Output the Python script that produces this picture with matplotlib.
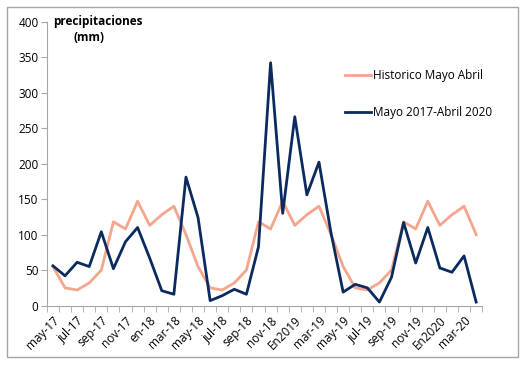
import numpy as np
import matplotlib.pyplot as plt
from matplotlib.patches import Rectangle

# monthly values, may-2017 .. apr-2020
historico_anual = [55, 25, 22, 32, 50, 118, 108, 147, 113, 128, 140, 100]
historico = historico_anual * 3
periodo = [56, 42, 61, 55, 104, 52, 90, 110, 67, 21, 16, 181,
           124, 7, 14, 23, 16, 83, 342, 130, 266, 156, 202, 102,
           19, 30, 25, 5, 40, 117, 60, 110, 53, 47, 70, 5]
etiquetas = ["may-17", "jul-17", "sep-17", "nov-17", "en-18", "mar-18",
             "may-18", "jul-18", "sep-18", "nov-18", "En2019", "mar-19",
             "may-19", "jul-19", "sep-19", "nov-19", "En2020", "mar-20"]

plt.rcParams["font.family"] = ["Open Sans", "DejaVu Sans"]

fig = plt.figure(figsize=(5.27, 3.66), dpi=100)
ax = fig.add_axes([0.089, 0.165, 0.826, 0.776])

x = np.arange(len(periodo))
ax.plot(x, historico, color="#F4A58C", lw=2.0, label="Historico Mayo Abril")
ax.plot(x, periodo, color="#0B2A5E", lw=2.0, label="Mayo 2017-Abril 2020")

ax.set_xlim(-0.5, len(periodo) - 0.5)
ax.set_ylim(0, 400)
ax.set_yticks(range(0, 401, 50))
ax.set_xticks(x[::2])
ax.set_xticklabels(etiquetas, rotation=45, ha="right", rotation_mode="anchor")
ax.set_xticks(np.arange(-0.5, len(periodo), 1), minor=True)
ax.tick_params(axis="x", which="major", length=0, pad=6, labelsize=8.5)
ax.tick_params(axis="x", which="minor", length=4, color="#A6A6A6", direction="out")
ax.tick_params(axis="y", length=4, color="#A6A6A6", labelsize=8.5, pad=2)

for s in ["top", "right"]:
    ax.spines[s].set_visible(False)
for s in ["left", "bottom"]:
    ax.spines[s].set_color("#A6A6A6")

ax.text(0.0, 400, "precipitaciones", fontsize=8.5, fontweight="bold", va="center", ha="left")
ax.text(1.7, 378, "(mm)", fontsize=8.5, fontweight="bold", va="center", ha="left")

ax.legend(loc="upper left", bbox_to_anchor=(0.66, 0.87), frameon=False, fontsize=8.5,
          handlelength=2.2, labelspacing=2.0, handletextpad=0.2)

fig.patches.append(Rectangle((7 / 527, 1 - 357 / 366), 511 / 527, 350 / 366,
                             transform=fig.transFigure, fill=False, ec="#A6A6A6", lw=1.0))

fig.savefig("out.png", dpi=100)
